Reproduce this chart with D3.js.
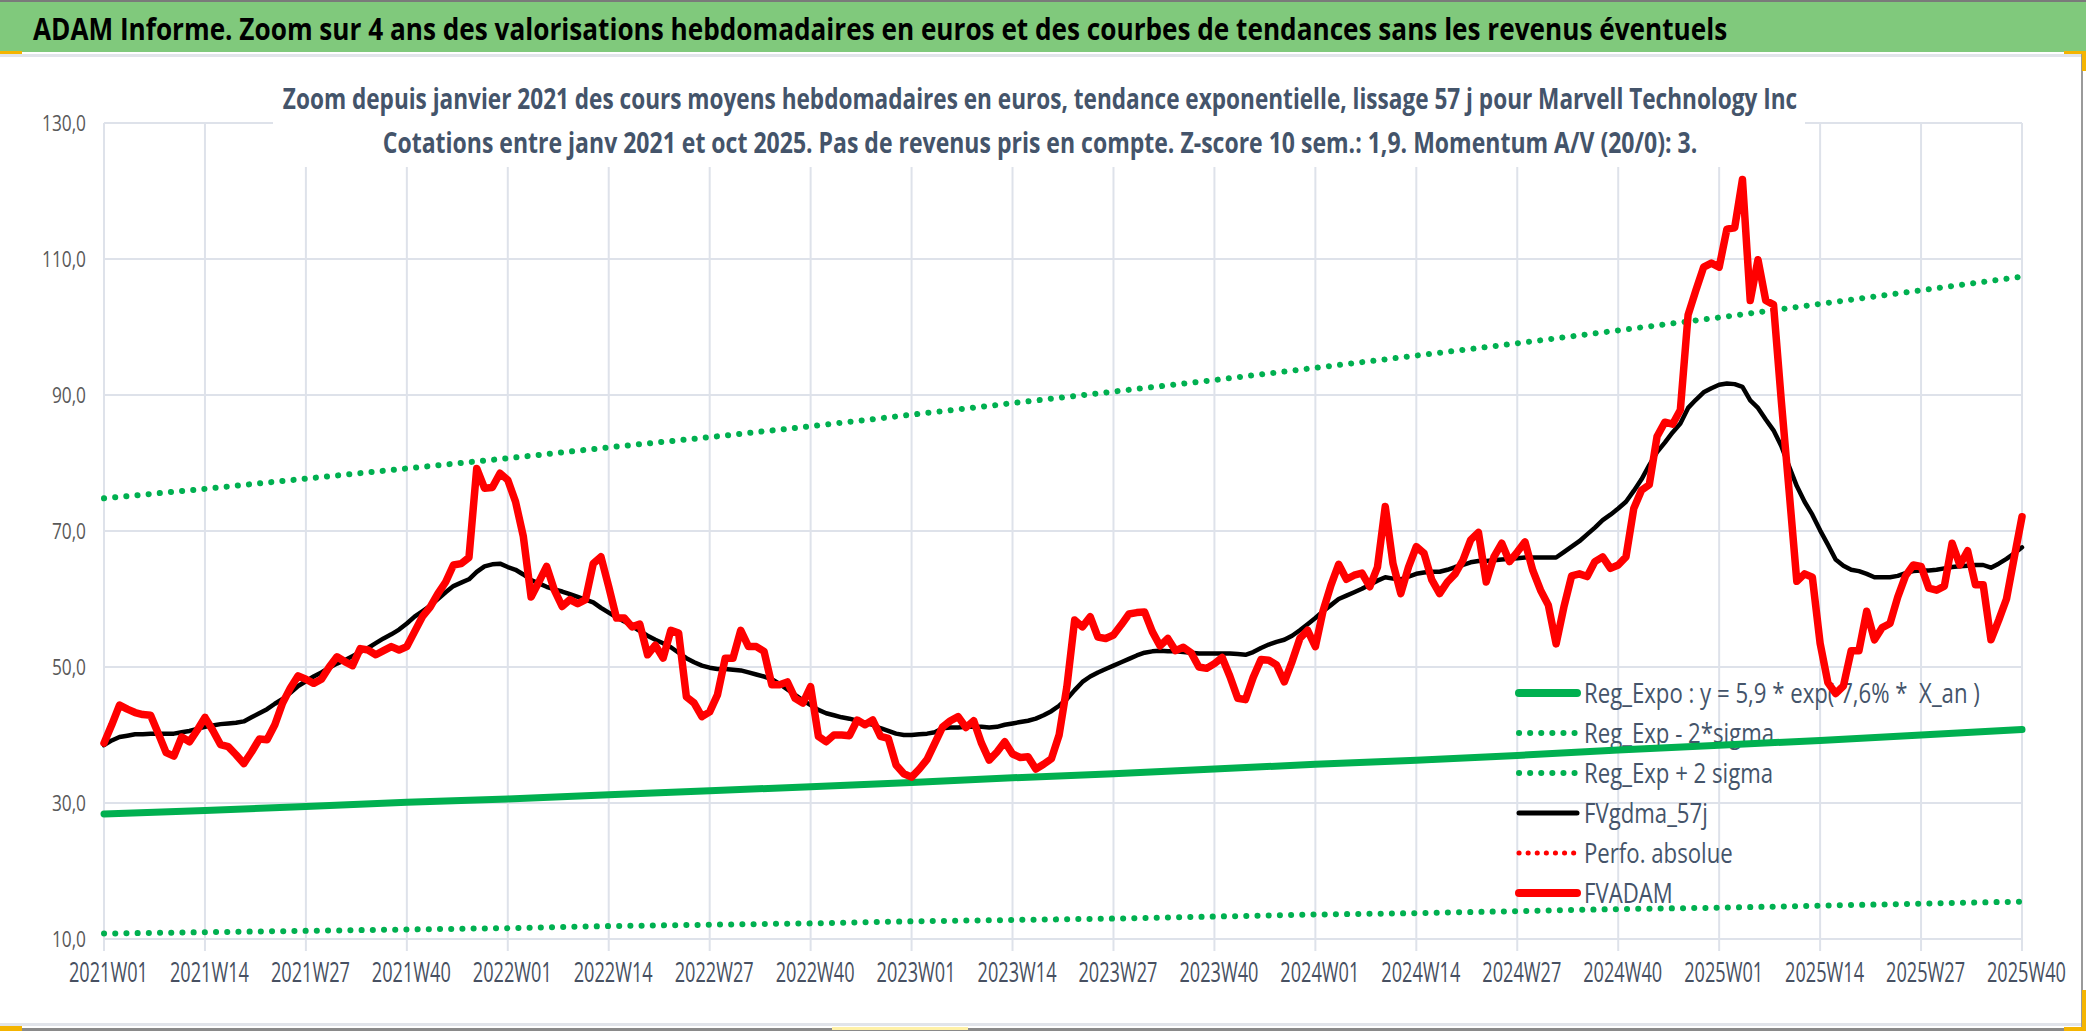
<!DOCTYPE html>
<html>
<head>
<meta charset="utf-8">
<script src="https://cdn.jsdelivr.net/npm/d3@7"></script>
<style>
html, body { margin: 0; padding: 0; background: #fff; }
svg { display: block; }
text { font-family: "Open Sans", "Noto Sans", sans-serif; white-space: pre; }
</style>
</head>
<body>
<svg id="chart" width="2086" height="1031"></svg>
<script>
// ---- data ----
var tickLabels = ["2021W01","2021W14","2021W27","2021W40","2022W01","2022W14","2022W27","2022W40",
  "2023W01","2023W14","2023W27","2023W40","2024W01","2024W14","2024W27","2024W40",
  "2025W01","2025W14","2025W27","2025W40"];
var yTicks = [10, 30, 50, 70, 90, 110, 130];

// FVADAM, weekly average price (red)
var fvadam = [
  // 2021
  38.8, 41.5, 44.4, 43.8, 43.3, 43.0, 42.9, 40.2, 37.4, 36.9,
  39.7, 39.0, 40.7, 42.6, 40.7, 38.6, 38.3, 37.1, 35.8, 37.5,
  39.4, 39.3, 41.5, 44.7, 46.9, 48.7, 48.2, 47.6, 48.2, 50.0,
  51.5, 50.8, 50.2, 52.7, 52.5, 51.8, 52.4, 53.0, 52.5, 53.0,
  55.2, 57.4, 58.8, 60.8, 62.5, 65.0, 65.2, 66.1, 79.2, 76.3,
  76.4, 78.5,
  // 2022
  77.5, 74.3, 69.2, 60.3, 62.5, 64.8, 61.3, 58.9,
  59.9, 59.3, 59.9, 65.2, 66.2, 61.8, 57.2, 57.2, 55.9, 56.3,
  51.8, 53.2, 51.3, 55.4, 55.0, 45.6, 44.7, 42.7, 43.4, 45.9,
  51.3, 51.3, 55.4, 53.0, 53.0, 52.3, 47.4, 47.4, 47.8, 45.4,
  44.7, 47.1, 39.8, 39.0, 40.0, 40.0, 39.9, 42.2, 41.5, 42.2,
  39.8, 39.5, 35.6, 34.3,
  // 2023
  33.8, 35.0, 36.4, 38.8, 41.2, 42.1,
  42.7, 41.1, 42.1, 38.8, 36.3, 37.5, 39.0, 37.2, 36.7, 36.8,
  35.0, 35.7, 36.5, 40.0, 47.1, 56.9, 55.9, 57.4, 54.4, 54.2,
  54.7, 56.2, 57.8, 58.0, 58.1, 55.2, 53.1, 54.2, 52.4, 52.9,
  52.1, 50.0, 49.8, 50.5, 51.4, 48.6, 45.4, 45.2, 48.5, 51.1,
  51.0, 50.3, 47.8, 50.8, 54.2, 55.4,
  // 2024
  53.0, 58.3, 62.0, 65.1,
  62.9, 63.5, 63.8, 61.8, 64.7, 73.6, 65.2, 60.8, 64.7, 67.7,
  66.7, 62.8, 60.8, 62.5, 63.7, 65.7, 68.7, 69.8, 62.5, 66.2,
  68.2, 65.5, 66.9, 68.4, 64.2, 61.3, 59.1, 53.4, 58.8, 63.4,
  63.7, 63.3, 65.5, 66.2, 64.5, 65.0, 66.2, 73.3, 76.0, 76.8,
  83.9, 86.0, 85.7, 87.8, 101.8, 105.4, 108.8, 109.4,
  // 2025
  108.8, 114.4,
  114.6, 121.7, 103.9, 109.9, 103.9, 103.3, 89.2, 76.0, 62.6, 63.7,
  63.2, 53.5, 47.7, 46.1, 47.2, 52.4, 52.4, 58.2, 54.0, 55.8,
  56.4, 60.3, 63.4, 65.0, 64.8, 61.6, 61.3, 61.9, 68.2, 65.0,
  67.1, 62.1, 62.1, 54.0, 56.9, 60.0, 66.1, 72.1
];

// FVgdma_57j, 57 day smoothing (black)
var fvgdma = [
  // 2021
  38.5, 39.2, 39.7, 39.9, 40.1, 40.1, 40.2, 40.2, 40.2, 40.2,
  40.4, 40.6, 40.9, 41.2, 41.4, 41.6, 41.7, 41.8, 42.0, 42.6,
  43.2, 43.8, 44.6, 45.3, 46.2, 47.2, 47.9, 48.6, 49.2, 49.9,
  50.5, 51.0, 51.6, 52.2, 52.8, 53.5, 54.2, 54.8, 55.5, 56.4,
  57.4, 58.2, 59.0, 60.0, 61.0, 61.9, 62.4, 62.9, 64.0, 64.8,
  65.1, 65.2,
  // 2022
  64.7, 64.3, 63.6, 62.8, 62.3, 61.8, 61.4, 61.1,
  60.7, 60.3, 59.9, 59.5, 58.7, 58.0, 57.3, 56.7, 56.0, 55.3,
  54.6, 54.0, 53.5, 52.9, 52.1, 51.3, 50.7, 50.2, 49.9, 49.7,
  49.7, 49.6, 49.5, 49.2, 48.9, 48.6, 48.2, 47.5, 46.7, 45.9,
  45.1, 44.4, 43.7, 43.2, 42.9, 42.6, 42.4, 42.1, 41.8, 41.5,
  41.0, 40.6, 40.2, 40.0,
  // 2023
  40.0, 40.1, 40.2, 40.4, 41.0, 41.1,
  41.1, 41.2, 41.2, 41.2, 41.1, 41.2, 41.5, 41.7, 41.9, 42.1,
  42.4, 42.9, 43.5, 44.3, 45.3, 46.6, 47.8, 48.6, 49.2, 49.7,
  50.2, 50.7, 51.2, 51.7, 52.1, 52.3, 52.4, 52.3, 52.3, 52.2,
  52.1, 52.0, 52.0, 52.0, 52.0, 52.0, 51.9, 51.8, 52.2, 52.8,
  53.3, 53.7, 54.0, 54.6, 55.4, 56.3,
  // 2024
  57.2, 58.2, 59.1, 60.0,
  60.5, 61.0, 61.5, 62.1, 62.7, 63.2, 63.0, 62.9, 63.3, 63.7,
  63.9, 64.0, 64.0, 64.3, 64.7, 65.0, 65.4, 65.6, 65.6, 65.7,
  65.8, 65.9, 66.0, 66.1, 66.1, 66.1, 66.1, 66.1, 66.9, 67.7,
  68.5, 69.5, 70.5, 71.6, 72.4, 73.3, 74.3, 75.9, 77.6, 79.7,
  81.6, 83.0, 84.5, 85.8, 88.1, 89.3, 90.4, 91.0,
  // 2025
  91.5, 91.7,
  91.6, 91.2, 89.2, 88.1, 86.4, 84.8, 82.5, 79.5, 76.6, 74.3,
  72.4, 70.1, 68.0, 65.8, 64.9, 64.3, 64.1, 63.7, 63.2, 63.2,
  63.2, 63.4, 63.8, 64.1, 64.2, 64.2, 64.3, 64.5, 64.7, 64.8,
  64.9, 65.0, 65.0, 64.6, 65.2, 65.9, 66.7, 67.6
];

// regression curves, read at each labelled week
var regExpo  = [28.4, 28.9, 29.5, 30.1, 30.6, 31.2, 31.8, 32.4, 33.0, 33.7,
                34.3, 35.0, 35.7, 36.3, 37.0, 37.8, 38.5, 39.2, 40.0, 40.8];
var regMinus = [10.8, 11.0, 11.2, 11.4, 11.6, 11.9, 12.1, 12.3, 12.6, 12.8,
                13.0, 13.3, 13.6, 13.8, 14.1, 14.4, 14.6, 14.9, 15.2, 15.5];
var regPlus  = [74.8, 76.2, 77.7, 79.2, 80.7, 82.3, 83.8, 85.4, 87.1, 88.8,
                90.5, 92.2, 94.0, 95.8, 97.6, 99.5, 101.4, 103.4, 105.4, 107.4];

var legendLabels = ["Reg_Expo : y = 5,9 * exp( 7,6% *  X_an )", "Reg_Exp - 2*sigma",
  "Reg_Exp + 2 sigma", "FVgdma_57j", "Perfo. absolue", "FVADAM"];

// weekly categories 2021W01 .. 2025W40
var weeks = [];
[2021, 2022, 2023, 2024, 2025].forEach(function(yr) {
  var last = (yr == 2025) ? 40 : 52;
  for (var w = 1; w <= last; w++) weeks.push(yr + "W" + (w < 10 ? "0" + w : w));
});

// ---- drawing ----
var svg = d3.select("#chart");
var green = "#00B050", red = "#FF0000", gridC = "#DEE2EA", txtC = "#44546A";

// the reference text is narrow: scale it horizontally around its anchor point
function squish(sel, k) {
  sel.each(function() {
    var t = d3.select(this);
    var tx = +t.attr("x") || 0, ty = +t.attr("y") || 0;
    t.attr("x", 0).attr("y", 0)
      .attr("transform", "translate(" + tx + "," + ty + ") scale(" + k + ",1)");
  });
}
function widthOf(node) { return node.getComputedTextLength(); }

// frame and title band
svg.append("rect").attr("x", 0).attr("y", 0).attr("width", 2086).attr("height", 1031).attr("fill", "#fff");
svg.append("rect").attr("x", 0).attr("y", 0).attr("width", 2086).attr("height", 52).attr("fill", "#80C97C");
svg.append("rect").attr("x", 0).attr("y", 0).attr("width", 2086).attr("height", 2).attr("fill", "#7a7a7a");
svg.append("rect").attr("x", 0).attr("y", 54).attr("width", 2086).attr("height", 3).attr("fill", "#E1E4EA");
svg.append("rect").attr("x", 0).attr("y", 1023).attr("width", 2086).attr("height", 3).attr("fill", "#E1E4EA");
svg.append("rect").attr("x", 0).attr("y", 1028).attr("width", 2086).attr("height", 3).attr("fill", "#8a8a8a");
svg.append("rect").attr("x", 2081).attr("y", 52).attr("width", 2).attr("height", 979).attr("fill", "#9a9a9a");
// selection handles
var handles = [[0, 51, 22, 3], [2064, 51, 22, 3], [2082, 51, 4, 20], [0, 1026, 22, 5],
               [2082, 990, 4, 41], [2064, 1027, 22, 4]];
handles.forEach(function(h) {
  svg.append("rect").attr("x", h[0]).attr("y", h[1]).attr("width", h[2]).attr("height", h[3]).attr("fill", "#F4B400");
});
svg.append("rect").attr("x", 832).attr("y", 1027).attr("width", 136).attr("height", 3).attr("fill", "#FFF1A8");

var title = svg.append("text").attr("x", 33).attr("y", 40)
  .attr("font-size", 31).attr("font-weight", "bold").attr("fill", "#000")
  .text("ADAM Informe. Zoom sur 4 ans des valorisations hebdomadaires en euros et des courbes de tendances sans les revenus éventuels");
squish(title, 1695 / widthOf(title.node()));

// scales
var x = d3.scalePoint().domain(weeks).range([104, 2022]);
var y = d3.scaleLinear().domain([10, 130]).range([939, 123]);

// grid
var grid = svg.append("g");
grid.selectAll(".hg").data(yTicks).enter().append("line")
  .attr("x1", 104).attr("x2", 2022)
  .attr("y1", function(d) { return y(d); }).attr("y2", function(d) { return y(d); })
  .attr("stroke", gridC).attr("stroke-width", 2);
grid.selectAll(".vg").data(tickLabels).enter().append("line")
  .attr("x1", function(d) { return x(d); }).attr("x2", function(d) { return x(d); })
  .attr("y1", 123).attr("y2", 951)
  .attr("stroke", gridC).attr("stroke-width", 2);

// axes labels
var xAxis = svg.append("g").attr("transform", "translate(4,0)")
  .call(d3.axisBottom(x).tickValues(tickLabels).tickSize(0).tickPadding(0));
xAxis.select(".domain").remove();
xAxis.selectAll("text").attr("y", 982).attr("dy", null)
  .attr("font-size", 27).attr("font-family", null).attr("fill", "#475061");
var xk = 79 / widthOf(xAxis.select("text").node());
squish(xAxis.selectAll("text"), xk);

var yAxis = svg.append("g").attr("transform", "translate(86,0)")
  .call(d3.axisLeft(y).tickValues(yTicks).tickSize(0).tickPadding(0)
    .tickFormat(function(d) { return d3.format(".1f")(d).replace(".", ","); }));
yAxis.select(".domain").remove();
yAxis.selectAll("text").attr("dy", "0.36em").attr("font-size", 22).attr("font-family", null).attr("fill", "#595959");
var yk = 44 / widthOf(yAxis.selectAll("text").filter(function(d) { return d == 130; }).node());
squish(yAxis.selectAll("text"), yk);

// chart title box (hides grid behind it)
svg.append("rect").attr("x", 273).attr("y", 62).attr("width", 1532).attr("height", 105).attr("fill", "#fff");
var sub1 = svg.append("text").attr("x", 1040).attr("y", 109).attr("text-anchor", "middle")
  .attr("font-size", 29).attr("font-weight", "bold").attr("fill", txtC)
  .text("Zoom depuis janvier 2021 des cours moyens hebdomadaires en euros, tendance exponentielle, lissage 57 j pour Marvell Technology Inc");
squish(sub1, 1515 / widthOf(sub1.node()));
var sub2 = svg.append("text").attr("x", 1040).attr("y", 153).attr("text-anchor", "middle")
  .attr("font-size", 29).attr("font-weight", "bold").attr("fill", txtC)
  .text("Cotations entre janv 2021 et oct 2025. Pas de revenus pris en compte. Z-score 10 sem.: 1,9. Momentum A/V (20/0): 3.");
squish(sub2, 1315 / widthOf(sub2.node()));

// legend
var legendStyles = [
  { c: green, w: 8, dash: null },
  { c: green, w: 6, dash: "0.1 11" },
  { c: green, w: 6, dash: "0.1 11" },
  { c: "#000", w: 5, dash: null },
  { c: red, w: 5, dash: "0.1 9" },
  { c: red, w: 8, dash: null }
];
var leg = svg.append("g");
var rows = leg.selectAll("g").data(legendLabels).enter().append("g")
  .attr("transform", function(d, i) { return "translate(1517," + (693 + i * 40) + ")"; });
rows.append("line").attr("x1", 2).attr("x2", 60).attr("y1", 0).attr("y2", 0)
  .attr("stroke", function(d, i) { return legendStyles[i].c; })
  .attr("stroke-width", function(d, i) { return legendStyles[i].w; })
  .attr("stroke-linecap", "round")
  .attr("stroke-dasharray", function(d, i) { return legendStyles[i].dash; });
var legText = rows.append("text").attr("x", 67).attr("y", 10)
  .attr("font-size", 28).attr("fill", txtC).text(function(d) { return d; });
var lk = 396 / widthOf(legText.node());
squish(legText, lk);

// series
var trendLine = d3.line().x(function(d) { return x(d[0]); }).y(function(d) { return y(d[1]); });
var weekLine = d3.line().x(function(d, i) { return x(weeks[i]); }).y(function(d) { return y(d); });

svg.append("path").attr("d", trendLine(d3.zip(tickLabels, regMinus)))
  .attr("fill", "none").attr("stroke", green).attr("stroke-width", 6)
  .attr("stroke-linecap", "round").attr("stroke-dasharray", "0.1 11.1");
svg.append("path").attr("d", trendLine(d3.zip(tickLabels, regPlus)))
  .attr("fill", "none").attr("stroke", green).attr("stroke-width", 6)
  .attr("stroke-linecap", "round").attr("stroke-dasharray", "0.1 11.1");
svg.append("path").attr("d", trendLine(d3.zip(tickLabels, regExpo)))
  .attr("fill", "none").attr("stroke", green).attr("stroke-width", 7).attr("stroke-linecap", "round");
svg.append("path").attr("d", weekLine(fvgdma))
  .attr("fill", "none").attr("stroke", "#000").attr("stroke-width", 4.5)
  .attr("stroke-linejoin", "round").attr("stroke-linecap", "round");
svg.append("path").attr("d", weekLine(fvadam))
  .attr("fill", "none").attr("stroke", red).attr("stroke-width", 7.5)
  .attr("stroke-linejoin", "round").attr("stroke-linecap", "round");
</script>
</body>
</html>
